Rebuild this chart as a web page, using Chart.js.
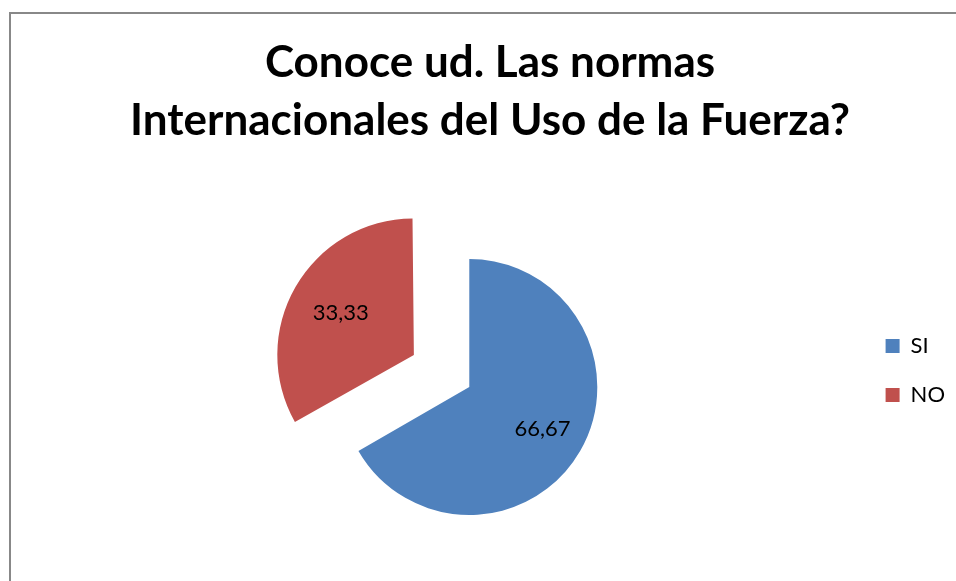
<!DOCTYPE html>
<html>
<head>
<meta charset="utf-8">
<script src="https://cdn.jsdelivr.net/npm/chart.js@4.4.1/dist/chart.umd.min.js"></script>
<style>
  body { margin: 0; background: #fff; }
  .wrap { position: relative; width: 956px; height: 581px; }
  canvas { display: block; }
  .title {
    position: absolute; left: 90px; top: 31px; width: 800px;
    font: bold 44px/58px Lato, sans-serif; color: #000; text-align: center;
  }
</style>
</head>
<body>
<div class="wrap">
  <canvas id="pie" width="956" height="581"></canvas>
  <div class="title" id="title"></div>
</div>
<script>
const TITLE = ['Conoce ud. Las normas', 'Internacionales del Uso de la Fuerza?']
const ANSWERS = ['SI', 'NO']
const PERCENT = [66.67, 33.33]
const COLORS = ['#4F81BD', '#C0504D']

Chart.defaults.font.family = 'Lato'
Chart.defaults.color = '#000'

// title sits a bit right of the pie centre, so it lives outside the canvas layout
document.getElementById('title').innerHTML = TITLE.join('<br>')

// grey frame of the chart box (only top and left show in the crop)
const frame = {
  id: 'frame',
  beforeDraw(chart) {
    const ctx = chart.ctx
    ctx.save()
    ctx.strokeStyle = '#888'
    ctx.lineWidth = 2
    ctx.beginPath()
    ctx.moveTo(10, chart.height)
    ctx.lineTo(10, 13)
    ctx.lineTo(chart.width, 13)
    ctx.stroke()
    ctx.restore()
  }
}

// value labels inside the slices, decimal comma
const sliceLabels = {
  id: 'sliceLabels',
  afterDatasetsDraw(chart) {
    const ctx = chart.ctx
    const meta = chart.getDatasetMeta(0)
    ctx.save()
    ctx.font = '22px Lato'
    ctx.fillStyle = '#000'
    ctx.textAlign = 'center'
    ctx.textBaseline = 'middle'
    meta.data.forEach((arc, i) => {
      const mid = (arc.startAngle + arc.endAngle) / 2
      const r = arc.outerRadius * 0.66 + (arc.options.offset || 0) / 4
      const txt = PERCENT[i].toFixed(2).replace('.', ',')
      ctx.fillText(txt, arc.x + Math.cos(mid) * r, arc.y + Math.sin(mid) * r)
    })
    ctx.restore()
  }
}

const pie = new Chart(document.getElementById('pie'), {
  type: 'pie',
  plugins: [frame, sliceLabels],
  data: {
    labels: ANSWERS,
    datasets: [{
      data: PERCENT,
      backgroundColor: COLORS,
      borderWidth: 0,
      offset: [0, 256],
      hoverOffset: 0,
      radius: 128,
    }]
  },
  options: {
    responsive: false,
    animation: false,
    cutout: '0%',
    layout: {
      padding: { top: 308, left: 80, right: 1, bottom: 115 },
    },
    plugins: {
      title: { display: false },
      legend: {
        position: 'right',
        align: 'start',
        labels: {
          boxWidth: 14,
          boxHeight: 14,
          padding: 27,
          font: { size: 22 },
        },
      },
      tooltip: { enabled: false },
    },
  }
})
</script>
</body>
</html>
